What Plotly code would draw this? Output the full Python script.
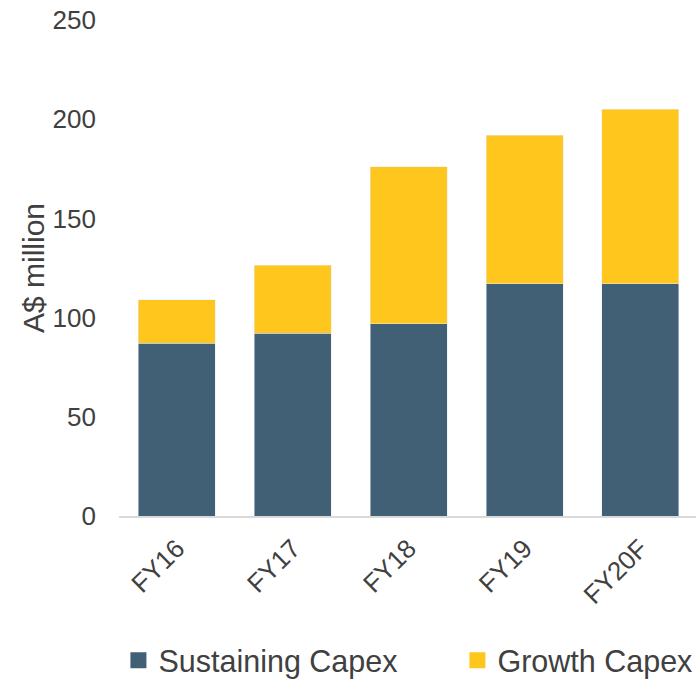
import plotly.graph_objects as go

categories = ["FY16", "FY17", "FY18", "FY19", "FY20F"]
sustaining = [87, 92, 97, 117, 117]
growth = [22, 34.5, 79, 75, 88]
y_ticks = [0, 50, 100, 150, 200, 250]

BLUE = "#416076"
YELLOW = "#FFC61E"
TEXT = "#404040"
FONT = "Liberation Sans, Arial, sans-serif"

fig = go.Figure()
fig.add_trace(go.Bar(x=categories, y=sustaining, name="Sustaining Capex",
                     marker=dict(color=BLUE), showlegend=False))
fig.add_trace(go.Bar(x=categories, y=growth, name="Growth Capex",
                     marker=dict(color=YELLOW), showlegend=False))
# legend entries with larger square swatches
fig.add_trace(go.Scatter(x=[None], y=[None], mode="markers", name="Sustaining Capex",
                         marker=dict(symbol="square", size=16, color=BLUE)))
fig.add_trace(go.Scatter(x=[None], y=[None], mode="markers", name="Growth Capex",
                         marker=dict(symbol="square", size=16, color=YELLOW)))

fig.update_layout(
    width=696, height=679,
    barmode="stack", bargap=0.335,
    margin=dict(l=119, r=0, t=20, b=163, autoexpand=False),
    paper_bgcolor="white", plot_bgcolor="white",
    font=dict(family=FONT, color=TEXT, size=24),
    showlegend=True,
    legend=dict(orientation="h", x=-0.001, xanchor="left", y=-0.291, yanchor="middle",
                traceorder="normal",
                font=dict(size=30.5, color=TEXT), entrywidth=294,
                itemwidth=30, bgcolor="rgba(0,0,0,0)"),
    xaxis=dict(range=[-0.5, 4.48], showgrid=False, showline=True, linecolor="#D9D9D9",
               linewidth=2, tickangle=-45, ticks="", tickfont=dict(size=26, color=TEXT),
               ticklabelstandoff=5, automargin=False),
    yaxis=dict(range=[0, 250], tickvals=y_ticks, showgrid=False, showline=False,
               zeroline=False, ticks="", tickfont=dict(size=26, color=TEXT),
               ticklabelstandoff=22, automargin=False),
    annotations=[dict(text="A$ million", textangle=-90, xref="paper", yref="paper",
                      x=(33 - 119) / 577, y=0.5, xanchor="center", yanchor="middle",
                      showarrow=False, font=dict(size=30, color=TEXT, family=FONT))],
)

fig.write_html("out.html", config={"displayModeBar": False},
               post_script="document.body.style.margin='0';document.body.style.overflow='hidden';")
